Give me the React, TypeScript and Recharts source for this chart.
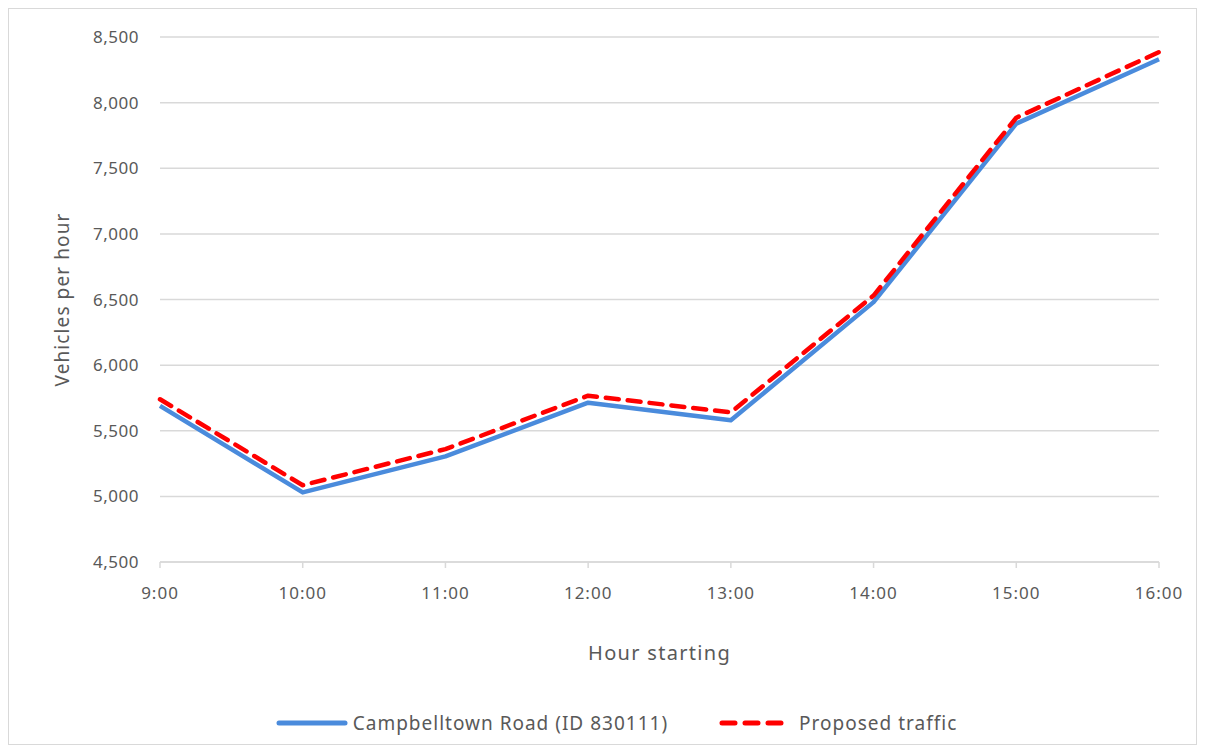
import React from 'react';
import { LineChart, Line, XAxis, YAxis, CartesianGrid, Legend } from 'recharts';

const hours = ['9:00', '10:00', '11:00', '12:00', '13:00', '14:00', '15:00', '16:00'];
const campbelltown = [5690, 5030, 5305, 5714, 5580, 6480, 7840, 8330];
const proposed = [5740, 5085, 5360, 5767, 5640, 6530, 7885, 8385];
const yTicks = [4500, 5000, 5500, 6000, 6500, 7000, 7500, 8000, 8500];

const data = hours.map((h, i) => ({ hour: h, campbelltown: campbelltown[i], proposed: proposed[i] }));

const FONT = '"Noto Sans", "Open Sans", sans-serif';
const TEXT = '#595959';

const fmt = (v: number) => v.toLocaleString('en-US');

const LegendContent = () => (
  <div style={{ display: 'flex', justifyContent: 'center', alignItems: 'center', fontFamily: FONT, fontSize: 19, color: TEXT, paddingTop: 40, marginLeft: 65 }}>
    <svg width={72} height={10} style={{ marginRight: 5 }}>
      <line x1={3} y1={5} x2={69} y2={5} stroke="#4a8bdc" strokeWidth={5} strokeLinecap="round" />
    </svg>
    <span style={{ marginRight: 51, letterSpacing: 1 }}>Campbelltown Road (ID 830111)</span>
    <svg width={68} height={10} style={{ marginRight: 12 }}>
      <line x1={3} y1={5} x2={65} y2={5} stroke="#ff0000" strokeWidth={5} strokeLinecap="round" strokeDasharray="13 10" />
    </svg>
    <span style={{ letterSpacing: 1 }}>Proposed traffic</span>
  </div>
);

const YLabel = (props: any) => {
  const vb = props.viewBox || { x: 0, y: 28, height: 527 };
  const x = 53;
  const y = vb.y + vb.height / 2;
  return (
    <text x={x} y={y} transform={`rotate(-90 ${x} ${y})`} textAnchor="middle" dominantBaseline="central" fill={TEXT} fontFamily={FONT} fontSize={19} letterSpacing={1.1}>
      Vehicles per hour
    </text>
  );
};

const XLabel = (props: any) => {
  const vb = props.viewBox || { x: 151, y: 555, width: 1000 };
  const x = vb.x + vb.width / 2;
  const y = 643;
  return (
    <text x={x} y={y} textAnchor="middle" dominantBaseline="central" fill={TEXT} fontFamily={FONT} fontSize={20} letterSpacing={1.3}>
      Hour starting
    </text>
  );
};

export default function App() {
  return (
    <div style={{ width: 1187, height: 735, border: '1px solid #d9d9d9', background: '#fff' }}>
      <LineChart width={1187} height={735} data={data} margin={{ top: 28, right: 37, left: 0, bottom: 0 }}>
        <CartesianGrid vertical={false} stroke="#d9d9d9" strokeWidth={1.5} />
        <XAxis
          dataKey="hour"
          stroke="#d9d9d9"
          strokeWidth={1.5}
          tickSize={6}
          tickMargin={19}
          height={108}
          tick={{ fill: TEXT, fontFamily: FONT, fontSize: 17, letterSpacing: 1 }}
          label={<XLabel />}
        />
        <YAxis
          domain={[4500, 8500]}
          ticks={yTicks}
          width={151}
          axisLine={false}
          tickLine={false}
          tickSize={0}
          tickMargin={21}
          tickFormatter={fmt}
          tick={{ fill: TEXT, fontFamily: FONT, fontSize: 17, letterSpacing: 0.5 }}
          label={<YLabel />}
        />
        <Legend verticalAlign="bottom" height={74} content={<LegendContent />} />
        <Line dataKey="campbelltown" stroke="#4a8bdc" strokeWidth={4.5} dot={false} isAnimationActive={false} strokeLinejoin="round" />
        <Line dataKey="proposed" stroke="#ff0000" strokeWidth={4.5} dot={false} isAnimationActive={false} strokeDasharray="13 9" strokeLinecap="round" strokeLinejoin="round" />
      </LineChart>
    </div>
  );
}
